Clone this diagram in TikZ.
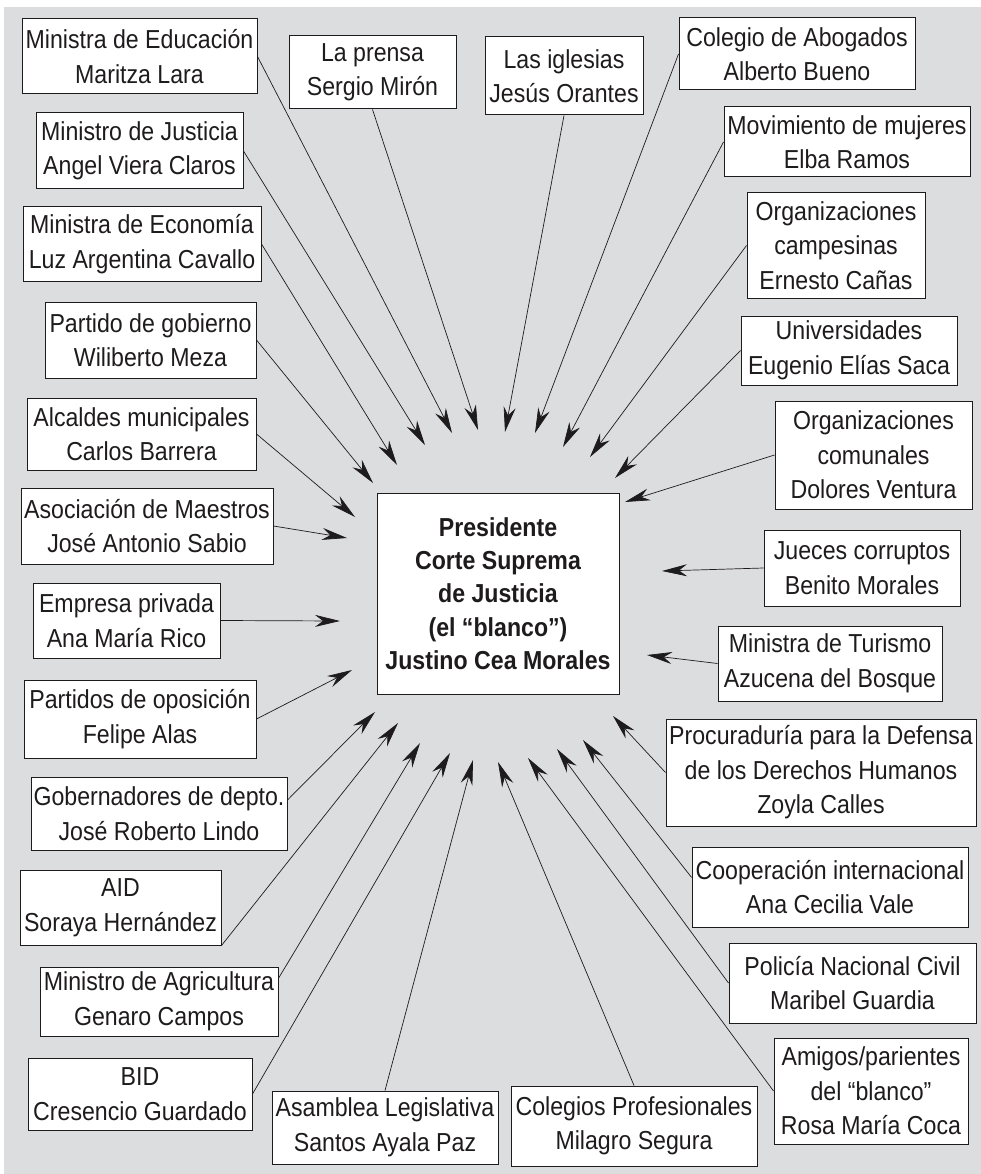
\documentclass[tikz,border=0pt]{standalone}
\usepackage{fontspec}
\setmainfont{Liberation Sans}[FakeStretch=0.89]
\usepackage{tikz}
\usetikzlibrary{arrows.meta}

\definecolor{bgray}{RGB}{220,221,223}
\definecolor{ink}{RGB}{30,27,28}

\tikzset{
  actor/.style={draw=ink, fill=white, line width=1pt, align=center, inner sep=1pt,
    text=ink, font=\fontsize{26}{34.5}\selectfont},
  target/.style={actor, font=\bfseries\fontsize{26}{33.3}\selectfont},
  pull/.style={draw=ink, line width=0.7pt, -{Stealth[length=25pt,width=12pt,inset=8pt]}}
}

\begin{document}
\begin{tikzpicture}[x=1pt, y=-1pt]
\useasboundingbox (0,0) rectangle (981,1174);
\fill[bgray] (4,7) rectangle (981,1174);

% the "blanco"
\node[target, minimum width=242pt, minimum height=201pt] (blanco) at (498,593.5)
  {Presidente\\Corte Suprema\\de Justicia\\(el “blanco”)\\Justino Cea Morales};

% actors round it: name/x/y/width/height/anchor/tip x/tip y/text
\foreach \nm/\bx/\by/\bw/\bh/\anc/\tx/\ty/\btext in {
  edu/139.5/56.5/235/75/east/452/433/{Ministra de Educación\\Maritza Lara},
  prensa/372.5/72.5/167/73/south/478/430/{La prensa\\Sergio Mirón},
  just/139.5/151/207/76/east/425/445/{Ministro de Justicia\\Angel Viera Claros},
  econ/142/244/238/74/east/397/465/{Ministra de Economía\\Luz Argentina Cavallo},
  pgob/150.5/340/211/76/east/373/483/{Partido de gobierno\\Wiliberto Meza},
  igl/564/76/158/78/south/505/432/{Las iglesias\\Jesús Orantes},
  abog/797/54/236/72/west/535/433/{Colegio de Abogados\\Alberto Bueno},
  muj/847/142/246/70/west/563/447/{Movimiento de mujeres\\Elba Ramos},
  camp/836/245.5/178/105/west/590/457/{Organizaciones\\campesinas\\Ernesto Cañas},
  univ/849/350.5/216/69/west/615/478/{Universidades\\Eugenio Elías Saca},
  alc/141.5/434/229/72/east/355/517/{Alcaldes municipales\\Carlos Barrera},
  maes/147/526/252/76/east/347/538/{Asociación de Maestros\\José Antonio Sabio},
  emp/126.5/620.5/187/75/east/340/621/{Empresa privada\\Ana María Rico},
  opos/140/719/232/78/east/352/670/{Partidos de oposición\\Felipe Alas},
  gober/159/813.5/256/73/6/375/712/{Gobernadores de depto.\\José Roberto Lindo},
  aid/120.5/907.5/201/75/south east/398/723/{AID\\Soraya Hernández},
  agri/159/1001.5/238/69/11/420/743/{Ministro de Agricultura\\Genaro Campos},
  bid/140/1094/224/72/east/450/753/{BID\\Cresencio Guardado},
  asam/385/1127.5/226/73/north/473/760/{Asamblea Legislativa\\Santos Ayala Paz},
  colp/634/1126/246/80/north/498/762/{Colegios Profesionales\\Milagro Segura},
  amig/871/1091/194/106/west/528/758/{Amigos/parientes\\del “blanco”\\Rosa María Coca},
  pol/852.5/983/247/80/west/557/749/{Policía Nacional Civil\\Maribel Guardia},
  coop/830/887/276/80/176/583/740/{Cooperación internacional\\Ana Cecilia Vale},
  proc/821/772.5/310/107/west/613/716/{Procuraduría para la Defensa\\de los Derechos Humanos\\Zoyla Calles},
  tur/830/663.5/224/75/west/647/655/{Ministra de Turismo\\Azucena del Bosque},
  juec/862/568/196/76/west/662/571/{Jueces corruptos\\Benito Morales},
  com/873.5/455/197/108/west/625/502/{Organizaciones\\comunales\\Dolores Ventura}}{
  \node[actor, minimum width={\bw pt}, minimum height={\bh pt}] (\nm) at (\bx,\by) {\btext};
  \coordinate (\nm-tip) at (\tx,\ty);
  \draw[pull] (\nm.\anc) -- (\nm-tip);
}
\end{tikzpicture}
\end{document}
